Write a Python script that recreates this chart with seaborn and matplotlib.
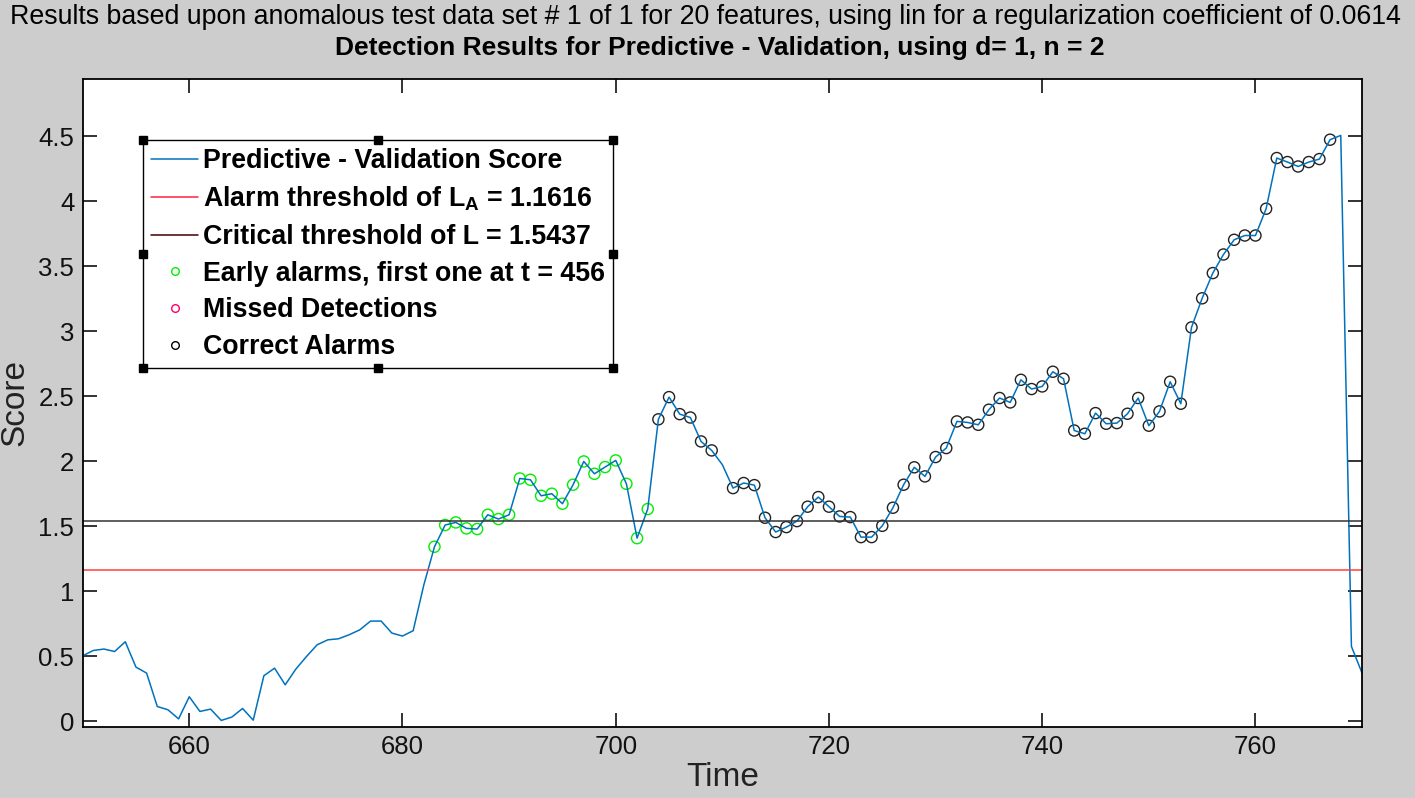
import matplotlib
matplotlib.use("Agg")
import pandas as pd
import matplotlib.pyplot as plt
from matplotlib.lines import Line2D
import seaborn as sns

sns.set_theme(style="ticks")
plt.rcParams['font.family'] = ['Liberation Sans', 'DejaVu Sans']
plt.rcParams['mathtext.fontset'] = 'custom'
plt.rcParams['mathtext.rm'] = 'Liberation Sans'
plt.rcParams['mathtext.bf'] = 'Liberation Sans:bold'

# ---------------------------
# 1. Data
# ---------------------------
times = list(range(650, 771))
scores = [
    0.505, 0.546, 0.557, 0.538, 0.613, 0.418, 0.372, 0.115, 0.090, 0.020,   # 650-659
    0.190, 0.077, 0.095, 0.008, 0.034, 0.100, 0.010, 0.352, 0.410, 0.282,   # 660-669
    0.403, 0.500, 0.590, 0.628, 0.636, 0.667, 0.705, 0.772, 0.772, 0.680,   # 670-679
    0.657, 0.698, 1.050, 1.344, 1.511, 1.531, 1.485, 1.480, 1.590, 1.557,   # 680-689
    1.590, 1.869, 1.859, 1.736, 1.752, 1.675, 1.821, 2.000, 1.905, 1.957,   # 690-699
    2.008, 1.828, 1.410, 1.634, 2.324, 2.495, 2.364, 2.338, 2.154, 2.085,   # 700-709
    1.975, 1.795, 1.834, 1.818, 1.567, 1.457, 1.495, 1.541, 1.652, 1.726,   # 710-719
    1.652, 1.577, 1.572, 1.418, 1.418, 1.505, 1.644, 1.821, 1.955, 1.885,   # 720-729
    2.034, 2.103, 2.308, 2.300, 2.282, 2.398, 2.488, 2.454, 2.628, 2.557,   # 730-739
    2.577, 2.690, 2.636, 2.238, 2.213, 2.372, 2.290, 2.295, 2.367, 2.488,   # 740-749
    2.275, 2.385, 2.613, 2.444, 3.031, 3.255, 3.449, 3.592, 3.705, 3.738,   # 750-759
    3.738, 3.944, 4.334, 4.303, 4.269, 4.303, 4.326, 4.475, 4.508, 0.577,   # 760-769
    0.372,                                                                  # 770
]
early_alarm_times = list(range(683, 704))
correct_alarm_times = [t for t in range(704, 768) if t != 710]

alarm_threshold = 1.1616
critical_threshold = 1.5437

df = pd.DataFrame({"time": times, "score": scores})
early = df[df["time"].isin(early_alarm_times)]
correct = df[df["time"].isin(correct_alarm_times)]

# ---------------------------
# 2. Plot
# ---------------------------
fig = plt.figure(figsize=(14.15, 7.98), dpi=100, facecolor="#cdcdcd")
ax = fig.add_axes([0.0584, 0.0894, 0.9042, 0.8113])
ax.set_facecolor("white")

sns.lineplot(x="time", y="score", data=df, ax=ax, color="#0072BD", lw=1.1,
             estimator=None, legend=False)
ax.axhline(alarm_threshold, color="#ff4040", lw=1.1)
ax.axhline(critical_threshold, color="#333333", lw=1.1)
sns.scatterplot(x="time", y="score", data=early, ax=ax, marker="o", s=64,
                facecolor="none", edgecolor="#00ee00", linewidth=1.0, legend=False)
sns.scatterplot(x="time", y="score", data=correct, ax=ax, marker="o", s=64,
                facecolor="none", edgecolor="#222222", linewidth=1.0, legend=False)

ax.set_xlim(650, 770)
ax.set_ylim(-0.04, 4.94)
ax.set_xticks([660, 680, 700, 720, 740, 760])
ax.set_yticks([0, 0.5, 1, 1.5, 2, 2.5, 3, 3.5, 4, 4.5])
ax.set_yticklabels(["0", "0.5", "1", "1.5", "2", "2.5", "3", "3.5", "4", "4.5"])
ax.tick_params(direction="in", length=10, width=1.2, labelsize=18.5, colors="#111111",
               top=True, right=True, pad=6)
for sp in ax.spines.values():
    sp.set_color("black")
    sp.set_linewidth(1.3)

ax.set_xlabel("Time", fontsize=24, color="#222222", labelpad=2)
ax.set_ylabel("Score", fontsize=24, color="#222222", labelpad=6)

fig.text(0.4985, 1 - 17 / 798,
         "Results based upon anomalous test data set # 1 of 1 for 20 features, "
         "using lin for a regularization coefficient of 0.0614",
         ha="center", va="center", fontsize=19.3, color="black")
fig.text(0.509, 1 - 48 / 798,
         "Detection Results for Predictive - Validation, using d= 1, n = 2",
         ha="center", va="center", fontsize=19, fontweight="bold", color="black")

# ---------------------------
# 3. Legend
# ---------------------------
handles = [
    Line2D([], [], color="#0072BD", lw=1.1),
    Line2D([], [], color="#ff2040", lw=1.1),
    Line2D([], [], color="#400000", lw=1.1),
    Line2D([], [], ls="none", marker="o", ms=5.5, mfc="none", mec="#00ee00"),
    Line2D([], [], ls="none", marker="o", ms=5.5, mfc="none", mec="#ff0066"),
    Line2D([], [], ls="none", marker="o", ms=5.5, mfc="none", mec="black"),
]
labels = [
    "Predictive - Validation Score",
    r"Alarm threshold of $\mathbf{L_A}$ = 1.1616",
    "Critical threshold of L = 1.5437",
    "Early alarms, first one at t = 456",
    "Missed Detections",
    "Correct Alarms",
]
leg = ax.legend(handles, labels, loc="upper left", bbox_to_anchor=(0.0472, 0.9062),
                prop={"size": 19.3, "weight": "bold"}, frameon=True, fancybox=False,
                framealpha=1, edgecolor="black", borderpad=0.3, labelspacing=0.4,
                handlelength=1.75, handletextpad=0.2, borderaxespad=0)
leg.get_frame().set_linewidth(1.0)
for txt in leg.get_texts():
    txt.set_color("black")

# selection handles on the legend box
fig.canvas.draw()
bb = leg.get_window_extent().transformed(fig.transFigure.inverted())
hx = [bb.x0, (bb.x0 + bb.x1) / 2, bb.x1]
hy = [bb.y0, (bb.y0 + bb.y1) / 2, bb.y1]
pts = [(x, y) for x in hx for y in hy if not (x == hx[1] and y == hy[1])]
fig.add_artist(Line2D([p[0] for p in pts], [p[1] for p in pts], ls="none",
                      marker="s", ms=6, color="black", transform=fig.transFigure))

plt.savefig("out.png", dpi=100, facecolor=fig.get_facecolor())
